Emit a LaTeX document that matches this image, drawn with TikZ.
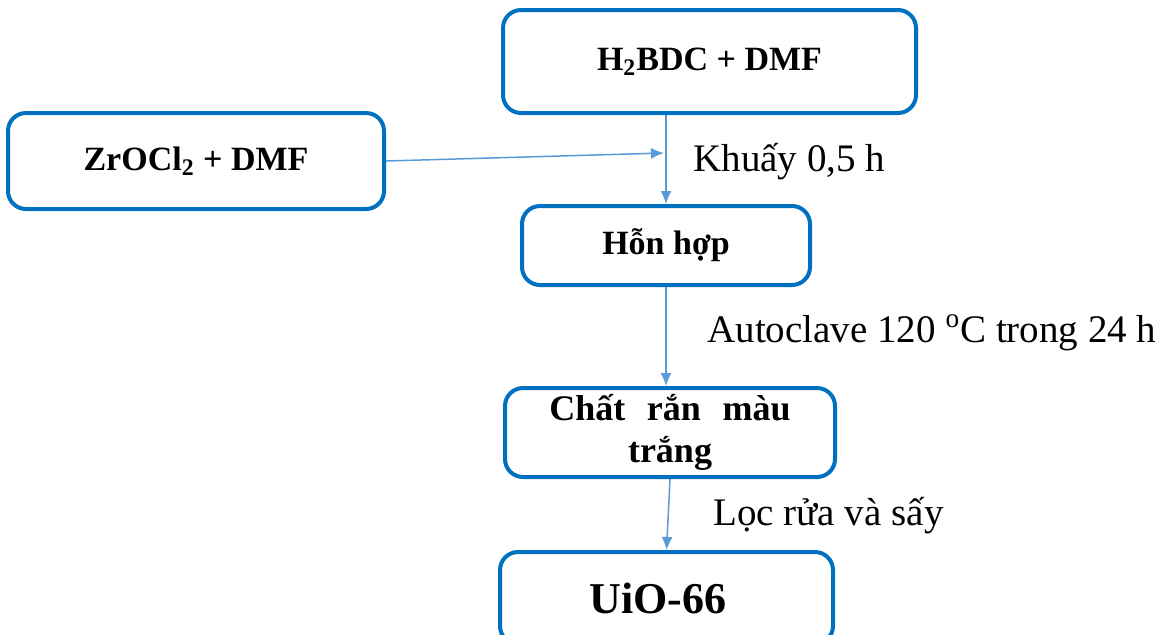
\documentclass[tikz,border=0pt]{standalone}
\usepackage{fontspec}
\setmainfont{Liberation Serif}
\usepackage{xcolor}
\usetikzlibrary{positioning,arrows.meta,calc}
\definecolor{boxblue}{HTML}{0070C0}
\definecolor{arrowblue}{HTML}{5B9BD5}
\tikzset{>={Latex[length=6.5pt,width=5.5pt]}}
\tikzset{stepbox/.style={draw=boxblue, line width=2pt, rounded corners=9pt,
    align=center, font=\fontsize{17}{19}\selectfont\bfseries, inner sep=0pt}}
\tikzset{flow/.style={->, draw=arrowblue, line width=0.75pt}}
\tikzset{steplabel/.style={anchor=west, font=\fontsize{19.5}{22}\selectfont, inner sep=0pt}}

\begin{document}
\begin{tikzpicture}[x=0.5pt, y=-0.5pt]
        \useasboundingbox (0,0) rectangle (1167,634); %
        \node[stepbox, minimum width=206.5pt, minimum height=51.5pt] (h2bdc) at (709.5,61.5)
        {H\textsubscript{2}BDC + DMF}; %
        \node[stepbox, minimum width=188pt, minimum height=48pt] (zrocl) at (196,161)
        {ZrOCl\textsubscript{2} + DMF}; %
        \node[stepbox, minimum width=144pt, minimum height=39.5pt] (honhop) at (666,245.5)
        {Hỗn hợp}; %
        \node[stepbox, minimum width=165pt, minimum height=44.5pt,
        font=\fontsize{18}{21}\selectfont\bfseries] (chatran) at (670,432.5)
        {Chất\hspace{0.6em}rắn\hspace{0.6em}màu\hspace{0.5em}\\trắng}; %
        \node[stepbox, minimum width=166.5pt, minimum height=46pt,
        font=\fontsize{22}{24}\selectfont\bfseries] (uio) at (666.5,598)
        {UiO-66\hspace{0.4em}}; %
        \coordinate (mix) at (664,153); %
        \draw[flow] (h2bdc.south -| honhop.north) -- (honhop.north); %
        \draw[flow] (zrocl.east) -- (mix); %
        \draw[flow] (honhop.south) -- (chatran.north -| honhop.south); %
        \draw[flow] (chatran.south) -- (uio.north); %
        \node[steplabel] (khuay) at (693,162) {Khuấy 0,5 h}; %
        \node[steplabel] (autoclave) at (707,333)
        {Autoclave 120 \textsuperscript{o}C trong 24 h}; %
        \node[steplabel] (locrua) at (713,516) {Lọc rửa và sấy}; %
      \end{tikzpicture}
\end{document}
